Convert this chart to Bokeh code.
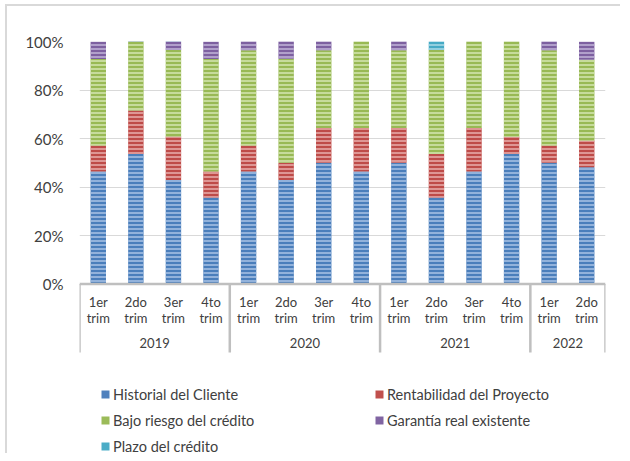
from bokeh.plotting import figure
from bokeh.models import (FactorRange, Range1d, FixedTicker, PrintfTickFormatter,
                          Span, Legend, LegendItem, ColumnDataSource)
from bokeh.core.properties import value
from bokeh.embed import file_html
from bokeh.resources import INLINE

# ---------------- data ----------------
years = ["2019", "2020", "2021", "2022"]
quarters = [
    ["1er\ntrim", "2do\ntrim", "3er\ntrim", "4to\ntrim"],
    ["1er\ntrim", "2do\ntrim", "3er\ntrim", "4to\ntrim"],
    ["1er\ntrim", "2do\ntrim", "3er\ntrim", "4to\ntrim"],
    ["1er\ntrim", "2do\ntrim"],
]
series_names = ["Historial del Cliente", "Rentabilidad del Proyecto",
                "Bajo riesgo del crédito", "Garantía real existente",
                "Plazo del crédito"]
historial    = [46.4, 53.6, 42.9, 35.7, 46.4, 42.9, 50.0, 46.4, 50.0, 35.7, 46.4, 53.6, 50.0, 48.1]
rentabilidad = [10.7, 17.9, 17.9, 10.7, 10.7,  7.1, 14.3, 17.9, 14.3, 17.9, 17.9,  7.1,  7.1, 11.1]
bajo_riesgo  = [35.7, 28.6, 35.7, 46.4, 39.3, 42.9, 32.1, 35.7, 32.1, 42.9, 35.7, 39.3, 39.3, 33.3]
garantia     = [ 7.1,  0.0,  3.6,  7.1,  3.6,  7.1,  3.6,  0.0,  3.6,  0.0,  0.0,  0.0,  3.6,  7.4]
plazo        = [ 0.0,  0.0,  0.0,  0.0,  0.0,  0.0,  0.0,  0.0,  0.0,  3.6,  0.0,  0.0,  0.0,  0.0]
y_ticks = [0, 20, 40, 60, 80, 100]

# ---------------- style ----------------
fills   = ["#4A7EBB", "#BE4B48", "#98B954", "#7D60A0", "#46AAC5"]
hatches = ["#A4BFE3", "#E6A9A7", "#D2E3AE", "#BFB0D6", "#A6D8E6"]
solid   = ["#4F81BD", "#C0504D", "#9BBB59", "#8064A2", "#4BACC6"]
TXT = "#404040"
FONT = "Lato"
AXIS_COL = "#BFBFBF"
GRID_COL = "#D9D9D9"

factors = [(y, q) for y, qs in zip(years, quarters) for q in qs]
quarter_labels = [q for _, q in factors]

src = ColumnDataSource(data=dict(
    x=factors,
    historial=historial, rentabilidad=rentabilidad, bajo_riesgo=bajo_riesgo,
    garantia=garantia, plazo=plazo,
))
stackers = ["historial", "rentabilidad", "bajo_riesgo", "garantia", "plazo"]

# layout (page pixels; figure placed at page x=7, y=6 after css margin+border)
FIG_X, FIG_Y = 7, 6
FRAME_L, FRAME_R, FRAME_T, FRAME_B = 79, 605, 41, 453
ZERO_PX = 283.5
PX_PER = (ZERO_PX - FRAME_T) / 100.0
FIG_W = FRAME_R + 17 - FIG_X
FIG_H = FRAME_B + 2 - FIG_Y


def py(page_y):
    return (ZERO_PX - page_y) / PX_PER


p = figure(width=FIG_W, height=FIG_H,
           x_range=FactorRange(*factors, range_padding=0, group_padding=0, factor_padding=0),
           y_range=Range1d(py(FRAME_B), 100),
           output_backend="svg", toolbar_location=None,
           x_axis_location=None,
           min_border_left=FRAME_L - FIG_X, min_border_right=FIG_X + FIG_W - FRAME_R,
           min_border_top=FRAME_T - FIG_Y, min_border_bottom=FIG_Y + FIG_H - FRAME_B)
p.styles = {"border-left": "2px solid #D9D9D9", "border-top": "2px solid #D9D9D9",
            "margin-left": "5px", "margin-top": "4px"}
p.outline_line_color = None
p.background_fill_color = "white"
p.border_fill_color = "white"

# bars
p.vbar_stack(stackers, x="x", width=0.41, source=src,
             fill_color=fills, line_color=None,
             hatch_pattern="horizontal_line", hatch_color=hatches,
             hatch_weight=1.6, hatch_scale=4)

# y axis & grid
p.yaxis.ticker = FixedTicker(ticks=y_ticks)
p.yaxis.formatter = PrintfTickFormatter(format="%d%%")
p.yaxis.axis_line_color = None
p.yaxis.major_tick_line_color = None
p.yaxis.minor_tick_line_color = None
p.yaxis.major_tick_out = 0
p.yaxis.major_label_standoff = 16
p.yaxis.major_label_text_font = FONT
p.yaxis.major_label_text_font_size = "15px"
p.yaxis.major_label_text_color = TXT
p.xgrid.visible = False
p.ygrid.ticker = FixedTicker(ticks=y_ticks)
p.ygrid.grid_line_color = GRID_COL
p.ygrid.grid_line_width = 1

# category axis (drawn within the extended frame)
p.add_layout(Span(location=0, dimension="width", line_color=AXIS_COL, line_width=2.5))
bounds = [(years[0], quarters[0][0], -0.5)] + [(y, qs[-1], 0.5) for y, qs in zip(years, quarters)]
p.segment(x0=bounds, y0=[0] * len(bounds), x1=bounds, y1=[py(352)] * len(bounds),
          line_color=AXIS_COL, line_width=2.5)
p.text(x=factors, y=[py(293)] * len(factors), text=quarter_labels,
       text_align="center", text_baseline="top", text_line_height=1.05,
       text_font=value(FONT), text_font_size="13px", text_color=TXT)
p.text(x=years, y=[py(342)] * len(years), text=years,
       text_align="center", text_baseline="middle",
       text_font=value(FONT), text_font_size="13px", text_color=TXT)

# legend (solid square swatches from zero-area proxies)
dummies = [p.quad(left=[factors[0]], right=[factors[0]], top=[0], bottom=[0],
                  fill_color=c, line_color=None) for c in solid]


def make_legend(idx, loc):
    leg = Legend(items=[LegendItem(label=series_names[i], renderers=[dummies[i]]) for i in idx],
                 location=loc, orientation="vertical",
                 label_text_font=FONT, label_text_font_size="14.5px", label_text_color=TXT,
                 glyph_width=10, glyph_height=10, label_height=18, label_standoff=3,
                 spacing=8, padding=0, margin=0,
                 border_line_color=None, background_fill_alpha=0)
    p.add_layout(leg)


make_legend([0, 2, 4], (21, -2))
make_legend([1, 3], (295, 24))

open("out.html", "w").write(file_html(p, INLINE))
